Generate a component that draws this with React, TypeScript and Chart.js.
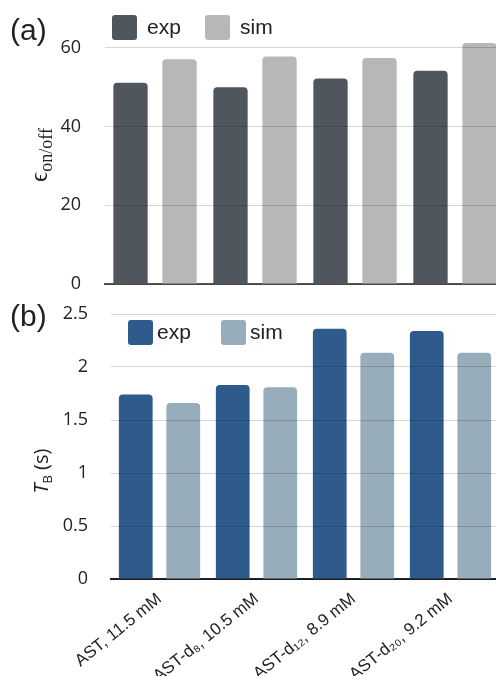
import React, { useEffect, useRef } from "react";
import { Chart, registerables } from "chart.js";

Chart.register(...registerables);

// ---- data ----
const categories = ["AST, 11.5 mM", "AST-d₈, 10.5 mM", "AST-d₁₂, 8.9 mM", "AST-d₂₀, 9.2 mM"];
const seriesNames = ["exp", "sim"];
const onOffExp = [51.1, 50.0, 52.2, 54.2];
const onOffSim = [57.1, 57.8, 57.4, 61.2];
const tbExp = [1.74, 1.83, 2.36, 2.34];
const tbSim = [1.66, 1.81, 2.135, 2.135];
const onOffMax = 63;
const onOffStep = 20;
const tbMax = 2.5;
const tbStep = 0.5;

// ---- styles ----
const colorsA = ["#50565e", "#b7b7b7"];
const colorsB = ["#2e5a8c", "#97adbc"];
const gridColor = "rgba(0,0,0,0.16)";

const boxLegend = {
  id: "boxLegend",
  afterDraw(chart: any, _args: any, opts: any) {
    if (!opts || !opts.show) return;
    const { ctx, chartArea } = chart;
    ctx.save();
    ctx.font = opts.font;
    ctx.textBaseline = "middle";
    ctx.textAlign = "left";
    chart.data.datasets.forEach((ds: any, i: number) => {
      const x = chartArea.left + opts.dx + i * opts.spacing;
      const y = (opts.fromArea ? chartArea.top : 0) + opts.cy;
      ctx.fillStyle = ds.backgroundColor;
      ctx.beginPath();
      (ctx as any).roundRect(x, y - 12.5, 25, 25, 3);
      ctx.fill();
      ctx.fillStyle = "#222";
      ctx.fillText(ds.label, x + opts.gap, y + 1);
    });
    ctx.restore();
  },
};

function makeDatasets(a: number[], b: number[], colors: string[], bp: number, cp: number) {
  return [a, b].map((d, i) => ({
    label: seriesNames[i],
    data: d,
    backgroundColor: colors[i],
    borderRadius: 4,
    borderSkipped: "bottom" as const,
    barPercentage: bp,
    categoryPercentage: cp,
  }));
}

const fmt = (v: any) => `${Number(v)}`;

export default function App() {
  const refA = useRef<HTMLCanvasElement>(null);
  const refB = useRef<HTMLCanvasElement>(null);

  useEffect(() => {
    const chartA = new Chart(refA.current as HTMLCanvasElement, {
      type: "bar",
      data: { labels: categories, datasets: makeDatasets(onOffExp, onOffSim, colorsA, 0.7, 0.98) as any },
      plugins: [boxLegend],
      options: {
        responsive: false,
        animation: false,
        layout: { padding: { top: 36, left: 0, right: 0, bottom: 0 } },
        plugins: {
          legend: { display: false },
          tooltip: { enabled: false },
          boxLegend: { show: true, dx: 7, spacing: 93, gap: 35, cy: 27.5, fromArea: false, font: '21px "Liberation Sans", Arial, sans-serif' },
        } as any,
        scales: {
          x: {
            grid: { display: false },
            border: { display: true, color: "#555", width: 2 },
            ticks: { display: false },
            afterFit: (s: any) => { s.height = 6; s.paddingLeft = 0; s.paddingRight = 0; },
          },
          y: {
            min: 0,
            max: onOffMax,
            ticks: { stepSize: onOffStep, includeBounds: false, padding: 24, color: "#222", font: { family: '"Open Sans"', size: 18 }, callback: fmt },
            grid: { color: gridColor, drawTicks: false, z: 1 },
            border: { display: false },
            afterFit: (s: any) => { s.width = 105; s.paddingTop = 0; s.paddingBottom = 0; },
          },
        },
      } as any,
    });

    const chartB = new Chart(refB.current as HTMLCanvasElement, {
      type: "bar",
      data: { labels: categories, datasets: makeDatasets(tbExp, tbSim, colorsB, 0.71, 0.98) as any },
      plugins: [boxLegend],
      options: {
        responsive: false,
        animation: false,
        layout: { padding: { top: 19, left: 0, right: 0, bottom: 0 } },
        plugins: {
          legend: { display: false },
          tooltip: { enabled: false },
          boxLegend: { show: true, dx: 17, spacing: 93, gap: 29, cy: 18.5, fromArea: true, font: '21px "Liberation Sans", Arial, sans-serif' },
        } as any,
        scales: {
          x: {
            grid: { display: false },
            border: { display: true, color: "#222", width: 2 },
            ticks: {
              autoSkip: false,
              minRotation: 39,
              maxRotation: 39,
              padding: 2,
              color: "#222",
              font: { family: '"Liberation Sans", Arial, sans-serif', size: 17 },
            },
            afterFit: (s: any) => { s.height = 121; },
          },
          y: {
            min: 0,
            max: tbMax,
            ticks: { stepSize: tbStep, padding: 23, color: "#222", font: { family: '"Open Sans"', size: 18 }, callback: fmt },
            grid: { color: gridColor, drawTicks: false, z: 1 },
            border: { display: false },
            afterFit: (s: any) => { s.width = 111; s.paddingTop = 0; s.paddingBottom = 0; },
          },
        },
      } as any,
    });

    return () => {
      chartA.destroy();
      chartB.destroy();
    };
  }, []);

  const panelLabel: React.CSSProperties = {
    position: "absolute",
    left: 10,
    fontFamily: '"Liberation Sans", Arial, sans-serif',
    fontSize: 30,
    color: "#222",
    lineHeight: 1,
  };

  return (
    <div style={{ position: "fixed", left: 0, top: 0, width: 496, height: 676, overflow: "hidden", background: "#fff" }}>
      <canvas ref={refA} width={505} height={290} style={{ position: "absolute", left: 0, top: 0 }} />
      <canvas ref={refB} width={499} height={405} style={{ position: "absolute", left: 0, top: 295 }} />
      <div style={{ ...panelLabel, top: 15 }}>(a)</div>
      <div style={{ ...panelLabel, top: 301 }}>(b)</div>
      <div
        style={{
          position: "absolute",
          left: 38,
          top: 155,
          transform: "translate(-50%, -50%) rotate(-90deg)",
          fontFamily: '"Liberation Serif", "DejaVu Serif", serif',
          fontSize: 25,
          color: "#222",
          whiteSpace: "nowrap",
          lineHeight: 1,
        }}
      >
        ϵ<span style={{ fontSize: 18, position: "relative", top: 5 }}>on/off</span>
      </div>
      <div
        style={{
          position: "absolute",
          left: 41,
          top: 471,
          transform: "translate(-50%, -50%) rotate(-90deg)",
          fontFamily: '"Open Sans", sans-serif',
          fontSize: 20,
          color: "#222",
          whiteSpace: "nowrap",
          lineHeight: 1,
        }}
      >
        <i>T</i>
        <span style={{ fontSize: 13, position: "relative", top: 4 }}>B</span> (s)
      </div>
    </div>
  );
}
